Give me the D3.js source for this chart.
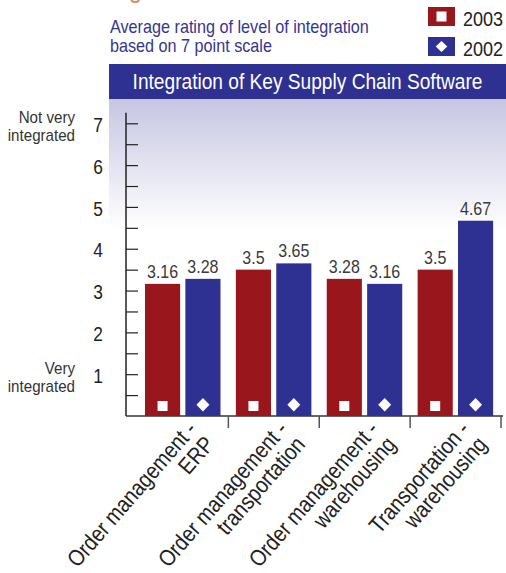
<!DOCTYPE html>
<html>
<head>
<meta charset="utf-8">
<script src="https://cdn.jsdelivr.net/npm/d3@7"></script>
<style>
  html, body { margin: 0; padding: 0; background: #fff; }
  svg { display: block; }
  text { font-family: "Liberation Sans", Arial, sans-serif; }
</style>
</head>
<body>
<svg id="chart" width="506" height="573"></svg>
<script>
// Data
const categories = [
  ["Order management -", "ERP"],
  ["Order management -", "transportation"],
  ["Order management -", "warehousing"],
  ["Transportation -", "warehousing"]
];
const seriesNames = ["2003", "2002"];
const values2003 = [3.16, 3.5, 3.28, 3.5];
const values2002 = [3.28, 3.65, 3.16, 4.67];
const yTickLabels = [1, 2, 3, 4, 5, 6, 7];
const titleText = "Integration of Key Supply Chain Software";
const subtitleLines = ["Average rating of level of integration", "based on 7 point scale"];

const colors = { "2003": "#98161c", "2002": "#2e3192" };
const catKeys = categories.map(c => c.join(" "));

const svg = d3.select("#chart");
const W = 506;
const NARROW = 0.89; // horizontal squeeze giving a condensed face

// Text helper: condensed text anchored at (x, y)
function addText(parent, x, y, str, size, fill, anchor = "start", k = NARROW) {
  return parent.append("text")
    .attr("transform", `translate(${x},${y}) scale(${k},1)`)
    .attr("text-anchor", anchor).attr("font-size", size).attr("fill", fill).text(str);
}

// Scales
const y = d3.scaleLinear().domain([0, 7]).range([416, 123.3]);
const x = d3.scaleBand().domain(catKeys).range([137.5, 501]).padding(0);
const xInner = d3.scaleBand().domain(seriesNames).range([7.5, 83]).paddingInner(0.13);
const axisX = 126;

// Background gradient under the title band
const defs = svg.append("defs");
const grad = defs.append("linearGradient").attr("id", "bgGrad")
  .attr("x1", 0).attr("y1", 0).attr("x2", 0).attr("y2", 1);
grad.append("stop").attr("offset", "0%").attr("stop-color", "#c6c6e3");
grad.append("stop").attr("offset", "100%").attr("stop-color", "#ffffff");
svg.append("rect").attr("x", 109).attr("y", 99).attr("width", W - 109).attr("height", 130)
  .attr("fill", "url(#bgGrad)");

// Cut-off heading fragment at the very top
addText(svg, 129, -2, "g", 26, "#d98a70");

// Title band
svg.append("rect").attr("x", 109).attr("y", 64).attr("width", W - 109).attr("height", 35)
  .attr("fill", "#2e3192");
addText(svg, (109 + W) / 2, 89, titleText, 21.5, "#fff", "middle");

// Subtitle
subtitleLines.forEach((s, i) => addText(svg, 110, 33 + i * 19, s, 17.7, "#35358f", "start", 0.915));

// Legend
seriesNames.forEach((s, i) => {
  const g = svg.append("g").attr("transform", `translate(428,${7 + i * 30})`);
  g.append("rect").attr("width", 27).attr("height", 19).attr("fill", colors[s]);
  if (i === 0) {
    g.append("rect").attr("x", 8.5).attr("y", 4.5).attr("width", 10).attr("height", 10).attr("fill", "#fff");
  } else {
    g.append("path").attr("d", "M13.5,4 L19.3,9.5 L13.5,15 L7.7,9.5 Z").attr("fill", "#fff");
  }
  addText(g, 35, 18.5, s, 21, "#222", "start", 0.86);
});

// Y axis: line plus half-step ticks pointing into the plot
const halfTicks = d3.range(1, 15).map(k => k / 2);
const yAxis = svg.append("g").attr("transform", `translate(${axisX},0)`)
  .call(d3.axisRight(y).tickValues(halfTicks).tickSize(12).tickFormat(""));
yAxis.select(".domain").remove();
yAxis.selectAll(".tick line").attr("stroke", "#222").attr("stroke-width", 1.2);
svg.append("line").attr("x1", axisX).attr("x2", axisX).attr("y1", y(7.25)).attr("y2", y(0))
  .attr("stroke", "#222").attr("stroke-width", 1.5);

// Y tick labels
const yLabels = svg.append("g").attr("transform", `translate(${axisX},0)`)
  .call(d3.axisLeft(y).tickValues(yTickLabels).tickSize(0).tickPadding(22).tickFormat(d3.format("d")));
yLabels.select(".domain").remove();
yLabels.attr("font-family", null);
yLabels.selectAll("text").attr("font-size", 19.5).attr("fill", "#222")
  .attr("x", 0).attr("dy", "0.42em").attr("transform", `translate(-23,0) scale(${NARROW},1)`);

// End-of-scale descriptions
const scaleNotes = [
  { lines: ["Not very", "integrated"], v: 7 },
  { lines: ["Very", "integrated"], v: 1 }
];
scaleNotes.forEach(n => {
  n.lines.forEach((s, i) => addText(svg, 75, y(n.v) - 0.5 + i * 18, s, 17, "#333", "end"));
});

// X axis baseline and category separators
svg.append("line").attr("x1", axisX).attr("x2", 503).attr("y1", y(0)).attr("y2", y(0))
  .attr("stroke", "#333").attr("stroke-width", 1.5);
svg.append("g").selectAll("line").data(catKeys).join("line")
  .attr("x1", d => x(d) + x.bandwidth()).attr("x2", d => x(d) + x.bandwidth())
  .attr("y1", y(0)).attr("y2", y(0) + 12)
  .attr("stroke", "#555").attr("stroke-width", 1.5);

// Bars
const rows = catKeys.map((k, i) => ({ key: k, vals: [
  { s: "2003", v: values2003[i] }, { s: "2002", v: values2002[i] }
]}));
const groups = svg.append("g").selectAll("g").data(rows).join("g")
  .attr("transform", d => `translate(${x(d.key)},0)`);
groups.selectAll("rect").data(d => d.vals).join("rect")
  .attr("x", d => xInner(d.s)).attr("width", xInner.bandwidth())
  .attr("y", d => y(d.v)).attr("height", d => y(0) - y(d.v))
  .attr("fill", d => colors[d.s]);

// Value labels
groups.each(function (d) {
  const g = d3.select(this);
  d.vals.forEach(p => addText(g, xInner(p.s) + xInner.bandwidth() / 2, y(p.v) - 6,
    String(p.v), 18, "#3a3a3a", "middle"));
});

// Markers near the bar bases
groups.each(function () {
  const g = d3.select(this);
  const cs = xInner("2003") + xInner.bandwidth() / 2;
  const cd = xInner("2002") + xInner.bandwidth() / 2;
  g.append("rect").attr("x", cs - 5).attr("y", 401).attr("width", 10).attr("height", 10).attr("fill", "#fff");
  g.append("path").attr("d", `M${cd},398 L${cd + 6.5},404.7 L${cd},411.4 L${cd - 6.5},404.7 Z`).attr("fill", "#fff");
});

// Rotated category labels
const angle = -49;
svg.append("g").selectAll("text").data(categories).join("text")
  .attr("transform", (d, i) => `translate(${x(catKeys[i]) + x.bandwidth() / 2 + 15},430) rotate(${angle}) scale(0.86,1)`)
  .attr("text-anchor", "end").attr("font-size", 23).attr("fill", "#222")
  .selectAll("tspan").data(d => d).join("tspan")
  .attr("x", 0).attr("dy", (d, i) => i === 0 ? 0 : "1.0em").text(d => d);
</script>
</body>
</html>
